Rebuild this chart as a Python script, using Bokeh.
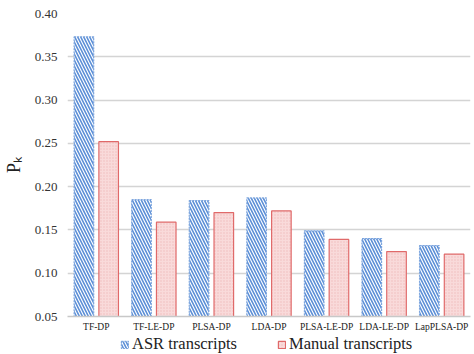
from bokeh.plotting import figure
from bokeh.models import ColumnDataSource, Range1d, Legend, LegendItem, NumeralTickFormatter, FixedTicker
from bokeh.layouts import column
from bokeh.transform import dodge
from bokeh.embed import file_html
from bokeh.resources import INLINE

categories = ["TF-DP", "TF-LE-DP", "PLSA-DP", "LDA-DP", "PLSA-LE-DP", "LDA-LE-DP", "LapPLSA-DP"]
asr = [0.373, 0.185, 0.184, 0.187, 0.149, 0.140, 0.132]
manual = [0.252, 0.159, 0.170, 0.172, 0.139, 0.125, 0.122]
y_ticks = [0.05, 0.10, 0.15, 0.20, 0.25, 0.30, 0.35, 0.40]
series_names = ["ASR transcripts", "Manual transcripts"]

src = ColumnDataSource(dict(cat=categories, asr=asr, manual=manual))

FONT = "Liberation Serif"
ASR_STYLE = dict(fill_color="white", hatch_pattern="\\", hatch_color="#5b8ed6", hatch_scale=6,
                 hatch_weight=1.6, line_color="#7ea6de", line_width=1.2, line_dash="2 1")
MAN_STYLE = dict(fill_color="#f9dada", hatch_pattern=".", hatch_color="#f0bcbc", hatch_scale=3,
                 hatch_weight=1, line_color="#e06a6a", line_width=1.2)

p = figure(x_range=categories, y_range=Range1d(0.05, 0.40), width=474, height=334,
           output_backend="svg", toolbar_location=None,
           min_border_left=62, min_border_right=4, min_border_top=13, min_border_bottom=16)

p.vbar(x=dodge("cat", -0.215, range=p.x_range), top="asr", bottom=0.05, width=0.34, source=src, **ASR_STYLE)
p.vbar(x=dodge("cat", 0.215, range=p.x_range), top="manual", bottom=0.05, width=0.34, source=src, **MAN_STYLE)

p.outline_line_color = None
p.xgrid.grid_line_color = None
p.ygrid.grid_line_color = "#d4d4d4"
p.ygrid.grid_line_width = 1.5
p.yaxis.ticker = FixedTicker(ticks=y_ticks)
p.yaxis.formatter = NumeralTickFormatter(format="0.00")
p.yaxis.axis_line_color = None
p.yaxis.major_tick_line_color = None
p.yaxis.minor_tick_line_color = None
p.yaxis.major_tick_out = 0
p.yaxis.major_tick_in = 0
p.yaxis.minor_tick_out = 0
p.yaxis.major_label_text_font = FONT
p.yaxis.major_label_text_font_size = "13px"
p.yaxis.major_label_text_color = "#333333"
p.yaxis.major_label_standoff = 10
p.yaxis.axis_label = "Pₖ"
p.yaxis.axis_label_text_font = FONT
p.yaxis.axis_label_text_font_style = "normal"
p.yaxis.axis_label_text_font_size = "18px"
p.yaxis.axis_label_text_color = "#222222"
p.yaxis.axis_label_standoff = 8

p.xaxis.axis_line_color = "#c8c8c8"
p.xaxis.axis_line_width = 1.5
p.xaxis.major_tick_line_color = None
p.xaxis.minor_tick_line_color = None
p.xaxis.major_tick_out = 0
p.xaxis.major_tick_in = 0
p.xaxis.minor_tick_out = 0
p.xaxis.major_label_text_font = FONT
p.xaxis.major_label_text_font_size = "9.5px"
p.xaxis.major_label_text_color = "#222222"
p.xaxis.major_label_standoff = 5

# legend strip
leg = figure(width=474, height=20, output_backend="svg", toolbar_location=None,
             x_range=Range1d(0, 1), y_range=Range1d(0, 1),
             min_border_left=62, min_border_right=4, min_border_top=0, min_border_bottom=0)
leg.axis.visible = False
leg.grid.visible = False
leg.outline_line_color = None
dummy = ColumnDataSource(dict(x=[-10], top=[-10]))
l1 = leg.vbar(x="x", top="top", width=0.1, source=dummy, **ASR_STYLE)
l2 = leg.vbar(x="x", top="top", width=0.1, source=dummy, **MAN_STYLE)
legend = Legend(items=[LegendItem(label=series_names[0], renderers=[l1]),
                       LegendItem(label=series_names[1], renderers=[l2])],
                orientation="horizontal", location=(53, 0),
                label_text_font=FONT, label_text_font_size="16.5px", label_text_color="#222222",
                glyph_width=9, glyph_height=9, spacing=40, padding=0, margin=0,
                label_standoff=3, border_line_color=None, background_fill_alpha=0)
leg.add_layout(legend, "center")

layout = column(p, leg, spacing=0)
open("out.html", "w").write(file_html(layout, INLINE))
